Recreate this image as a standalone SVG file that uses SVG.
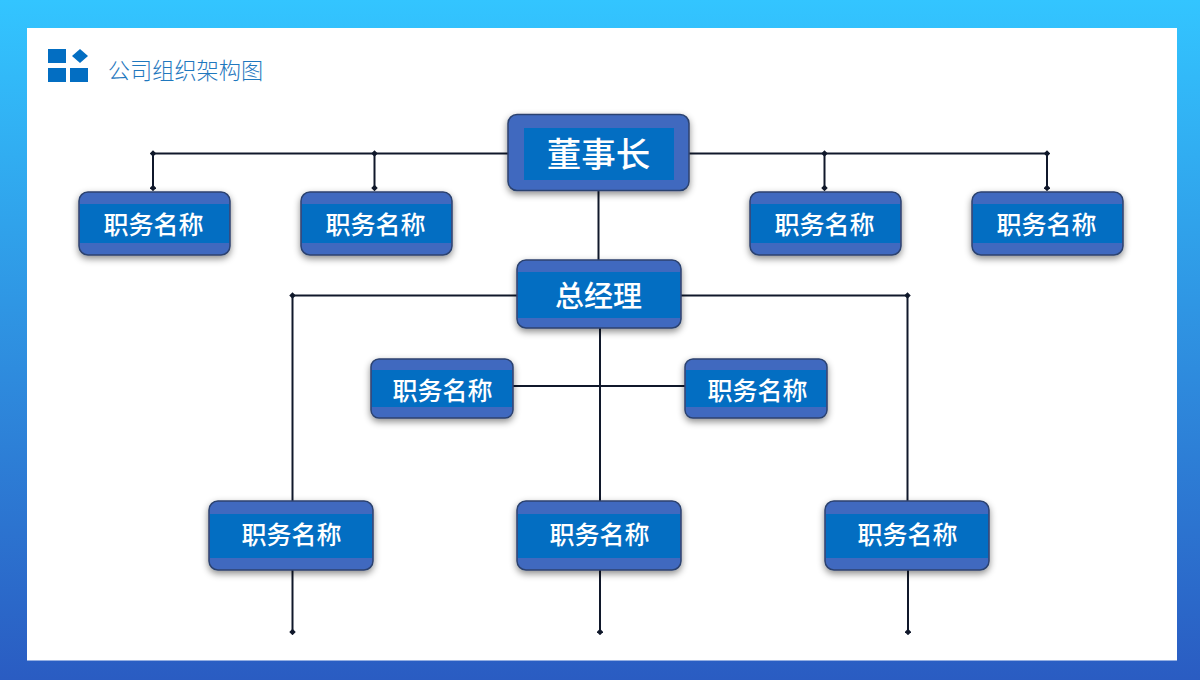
<svg xmlns="http://www.w3.org/2000/svg" width="1200" height="680" viewBox="0 0 1200 680">
<defs>
<linearGradient id="bg" x1="0" y1="0" x2="0" y2="1"><stop offset="0" stop-color="#33C5FF"/><stop offset="1" stop-color="#2A5CC2"/></linearGradient>
<filter id="sh" x="-15%" y="-20%" width="130%" height="160%"><feDropShadow dx="0" dy="3" stdDeviation="3.500" flood-color="#000" flood-opacity="0.45"/></filter>
<marker id="dot" viewBox="0 0 6 6" refX="3" refY="3" markerWidth="6.500" markerHeight="6.500" markerUnits="userSpaceOnUse" orient="auto"><path d="M3 0L6 3L3 6L0 3Z" fill="#10182B"/></marker>
</defs>
<style>
.l{fill:none;stroke:#10182B;stroke-width:2}
.o{fill:#4169BF;stroke:#2C426F;stroke-width:1.500}
.i{fill:#036EC2}
text{font-family:"Noto Sans CJK SC","Liberation Sans",sans-serif;text-anchor:middle;fill:#fff;font-weight:500}
.t{font-size:25px}
</style>
<rect width="1200" height="680" fill="url(#bg)"/>
<rect x="27" y="28" width="1150" height="632.500" fill="#fff"/>
<g id="logo" fill="#036EC2"><rect x="48" y="49" width="18" height="14"/><path d="M80 49L88 56L80 63L72 56Z"/><rect x="48" y="68" width="18" height="14"/><rect x="70" y="68" width="18" height="14"/></g>
<text id="title" x="185.500" y="79" style="font-size:22.200px;font-weight:300;fill:#1F78BE">公司组织架构图</text>
<g id="connectors">
<path class="l" marker-start="url(#dot)" marker-end="url(#dot)" d="M153 153.500V188"/>
<path class="l" d="M153 153.500H508"/>
<path class="l" marker-start="url(#dot)" marker-end="url(#dot)" d="M374.500 153.500V188"/>
<path class="l" d="M689 153.500H1047"/>
<path class="l" marker-start="url(#dot)" marker-end="url(#dot)" d="M824.500 153.500V188"/>
<path class="l" marker-start="url(#dot)" marker-end="url(#dot)" d="M1047 153.500V188"/>
<path class="l" d="M598.500 190V260"/>
<path class="l" marker-start="url(#dot)" d="M292.500 295.500H517"/>
<path class="l" marker-end="url(#dot)" d="M681 295.500H907.500"/>
<path class="l" d="M292.500 295.500V501"/>
<path class="l" d="M907.500 295.500V501"/>
<path class="l" d="M600 328V501"/>
<path class="l" d="M513 386H685"/>
<path class="l" marker-end="url(#dot)" d="M292.500 570V632"/>
<path class="l" marker-end="url(#dot)" d="M600 570V632"/>
<path class="l" marker-end="url(#dot)" d="M908 570V632"/>
</g>
<g id="n-chairman"><rect class="o" x="508" y="114.500" width="181" height="76" rx="9" filter="url(#sh)"/><rect class="i" x="524" y="128" width="150" height="52"/><text x="598.500" y="167" style="font-size:34.500px">董事长</text></g>
<g id="n-gm"><rect class="o" x="517" y="260" width="164" height="68" rx="9" filter="url(#sh)"/><rect class="i" x="518" y="272" width="162" height="46"/><text x="598.500" y="307" style="font-size:29px">总经理</text></g>
<g id="n-a1"><rect class="o" x="79" y="192" width="151" height="63" rx="9" filter="url(#sh)"/><rect class="i" x="80" y="204" width="149" height="39"/><text class="t" x="153.500" y="233.500">职务名称</text></g>
<g id="n-a2"><rect class="o" x="301" y="192" width="151" height="63" rx="9" filter="url(#sh)"/><rect class="i" x="302" y="204" width="149" height="39"/><text class="t" x="375.500" y="233.500">职务名称</text></g>
<g id="n-a3"><rect class="o" x="750" y="192" width="151" height="63" rx="9" filter="url(#sh)"/><rect class="i" x="751" y="204" width="149" height="39"/><text class="t" x="824.500" y="233.500">职务名称</text></g>
<g id="n-a4"><rect class="o" x="972" y="192" width="151" height="63" rx="9" filter="url(#sh)"/><rect class="i" x="973" y="204" width="149" height="39"/><text class="t" x="1046.500" y="233.500">职务名称</text></g>
<g id="n-b1"><rect class="o" x="371" y="359" width="142" height="59" rx="8" filter="url(#sh)"/><rect class="i" x="372" y="370" width="140" height="37"/><text class="t" x="442.500" y="399.500">职务名称</text></g>
<g id="n-b2"><rect class="o" x="685" y="359" width="142" height="59" rx="8" filter="url(#sh)"/><rect class="i" x="686" y="370" width="140" height="37"/><text class="t" x="757.500" y="399.500">职务名称</text></g>
<g id="n-c1"><rect class="o" x="209" y="501" width="164" height="69" rx="9" filter="url(#sh)"/><rect class="i" x="210" y="514" width="162" height="44"/><text class="t" x="291.500" y="544">职务名称</text></g>
<g id="n-c2"><rect class="o" x="517" y="501" width="164" height="69" rx="9" filter="url(#sh)"/><rect class="i" x="518" y="514" width="162" height="44"/><text class="t" x="599.500" y="544">职务名称</text></g>
<g id="n-c3"><rect class="o" x="825" y="501" width="164" height="69" rx="9" filter="url(#sh)"/><rect class="i" x="826" y="514" width="162" height="44"/><text class="t" x="907.500" y="544">职务名称</text></g>
</svg>
